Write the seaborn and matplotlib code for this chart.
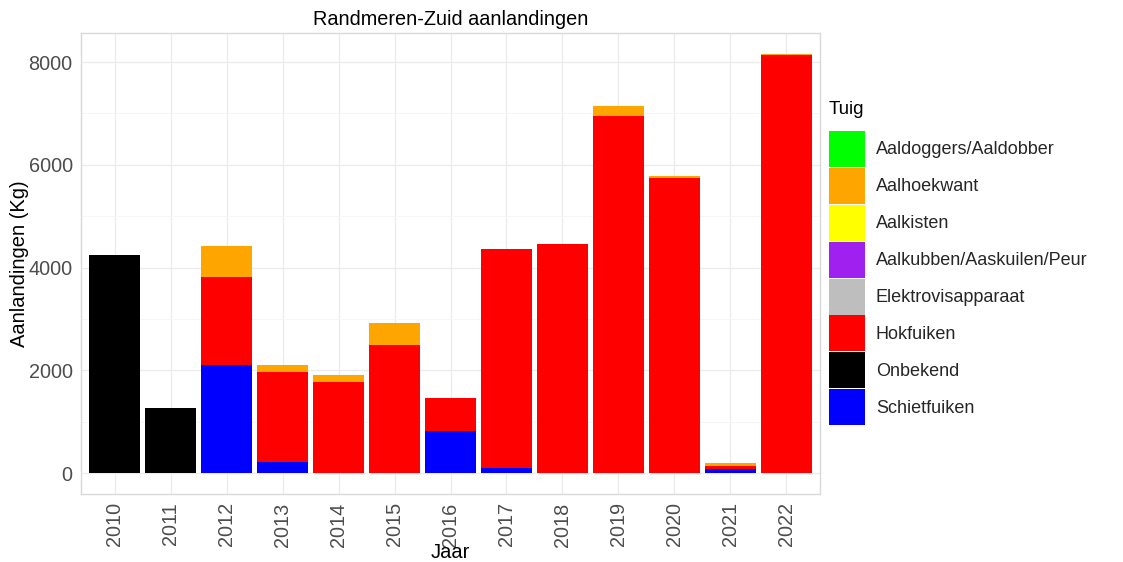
import matplotlib
matplotlib.use("Agg")
import matplotlib.pyplot as plt
import seaborn as sns
import pandas as pd
import numpy as np
from matplotlib.patches import Patch

years = [str(y) for y in range(2010, 2023)]
tuig = ["Aaldoggers/Aaldobber", "Aalhoekwant", "Aalkisten", "Aalkubben/Aaskuilen/Peur",
        "Elektrovisapparaat", "Hokfuiken", "Onbekend", "Schietfuiken"]
colors = ["#00FF00", "#FFA500", "#FFFF00", "#A020F0", "#BEBEBE", "#FF0000", "#000000", "#0000FF"]

#               2010  2011  2012  2013  2014  2015  2016  2017  2018  2019  2020  2021  2022
aaldoggers   = [0,    0,    0,    0,    0,    0,    0,    0,    0,    0,    0,    0,    0]
aalhoekwant  = [0,    0,    600,  130,  130,  440,  0,    0,    0,    210,  45,   60,   20]
aalkisten    = [0,    0,    0,    0,    0,    0,    0,    0,    0,    0,    0,    0,    0]
aalkubben    = [0,    0,    0,    0,    0,    0,    0,    0,    0,    0,    0,    0,    0]
elektro      = [0,    0,    0,    0,    0,    0,    0,    0,    0,    0,    0,    0,    0]
hokfuiken    = [0,    0,    1710, 1760, 1775, 2490, 650,  4265, 4450, 6940, 5740, 50,   8130]
onbekend     = [4250, 1260, 0,    0,    0,    0,    0,    0,    0,    0,    0,    0,    0]
schietfuiken = [0,    0,    2100, 210,  0,    0,    820,  90,   0,    0,    0,    80,   0]

series = [aaldoggers, aalhoekwant, aalkisten, aalkubben, elektro, hokfuiken, onbekend, schietfuiken]

rows = []
for name, vals in zip(tuig, series):
    for y, v in zip(years, vals):
        rows.append({"Jaar": y, "Tuig": name, "Kg": v})
df = pd.DataFrame(rows)

sns.set_theme(style="white")
plt.rcParams['font.family'] = ['Liberation Sans', 'DejaVu Sans']

W, H = 1123, 562
fig = plt.figure(figsize=(W / 100, H / 100), dpi=100)
ax = fig.add_axes([81 / W, 1 - 494 / H, (820 - 81) / W, (494 - 33) / H])

# stacking: first level on top -> cumulative sums from bottom (last level) upward
wide = df.pivot(index="Jaar", columns="Tuig", values="Kg").loc[years, tuig]
bottom_order = tuig[::-1]
cum = wide[bottom_order].cumsum(axis=1)
# draw tallest cumulative first
for name, col in zip(tuig, colors):
    d = pd.DataFrame({"Jaar": years, "cum": cum[name].values})
    sns.barplot(data=d, x="Jaar", y="cum", order=years, color=col, width=0.9,
                saturation=1, ax=ax, edgecolor="none", linewidth=0, errorbar=None)

ax.set_xlim(-0.6, 12.6)
ax.set_ylim(-408, 8565)
ax.set_yticks([0, 2000, 4000, 6000, 8000])
ax.set_yticks([1000, 3000, 5000, 7000], minor=True)
ax.grid(True, which="major", color="#EBEBEB", linewidth=0.9)
ax.grid(True, which="minor", axis="y", color="#F5F5F5", linewidth=0.6)
ax.set_axisbelow(True)
for s in ax.spines.values():
    s.set_color("#D9D9D9")
    s.set_linewidth(1.0)
ax.tick_params(axis="both", which="major", length=3, color="#D9D9D9", labelsize=14.3,
               labelcolor="#4D4D4D", pad=3)
ax.tick_params(axis="y", which="minor", length=0)
plt.setp(ax.get_xticklabels(), rotation=90, va="top", ha="center")
ax.set_xlabel("Jaar", fontsize=14.5, color="black", va="center")
ax.xaxis.set_label_coords(0.5, (494 - 553) / 461)
ax.set_ylabel("Aanlandingen (Kg)", fontsize=14.5, color="black", va="center")
ax.yaxis.set_label_coords((20 - 81) / 739, 0.5)
ax.set_title("Randmeren-Zuid aanlandingen", fontsize=14.3, color="black", pad=6)

fig.text(829 / W, 1 - 110 / H, "Tuig", fontsize=13.5, color="black", va="center", ha="left")
handles = [Patch(facecolor=c, edgecolor="none") for c in colors]
leg = fig.legend(handles, tuig, loc="upper left",
                 bbox_to_anchor=(829 / W, 1 - 131 / H), frameon=False, fontsize=13,
                 handlelength=2.0, handleheight=2.69, borderpad=0,
                 labelspacing=0.05, handletextpad=0.6, borderaxespad=0)

fig.savefig("out.png", dpi=100)
